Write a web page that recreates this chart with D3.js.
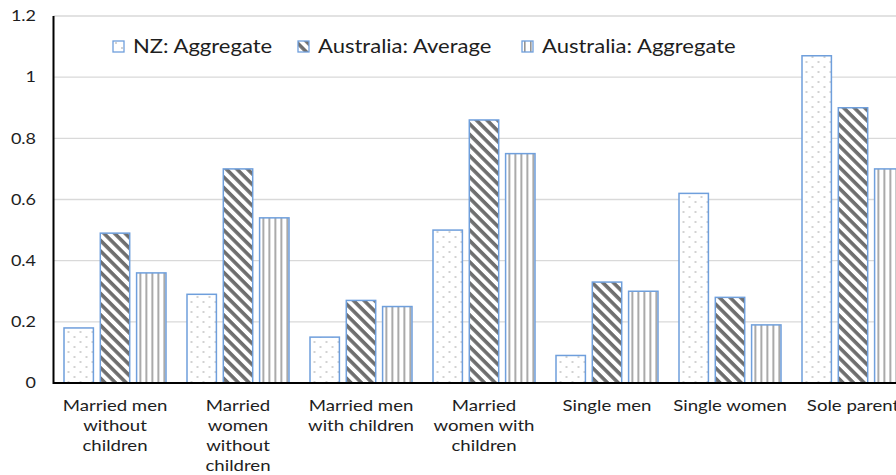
<!DOCTYPE html>
<html>
<head>
<meta charset="utf-8" />
<script src="https://cdn.jsdelivr.net/npm/d3@7"></script>
<style>
    body { margin: 0; background: #fff; }
    svg { display: block; font-family: Lato, "Noto Sans", sans-serif; fill: #1e1e1e; }
</style>
</head>
<body>
<svg id="chart" width="896" height="475"></svg>
<script>
    // data
    var categories = [
        ["Married men", "without", "children"],
        ["Married", "women", "without", "children"],
        ["Married men", "with children"],
        ["Married", "women with", "children"],
        ["Single men"],
        ["Single women"],
        ["Sole parent"]
    ];
    var seriesNames = ["NZ: Aggregate", "Australia: Average", "Australia: Aggregate"];
    var nzAggregate = [0.18, 0.29, 0.15, 0.50, 0.09, 0.62, 1.07];
    var ausAverage  = [0.49, 0.70, 0.27, 0.86, 0.33, 0.28, 0.90];
    var ausAggregate = [0.36, 0.54, 0.25, 0.75, 0.30, 0.19, 0.70];
    var yTicks = [0, 0.2, 0.4, 0.6, 0.8, 1, 1.2];

    var series = [nzAggregate, ausAverage, ausAggregate];
    var patternIds = ["pDots", "pDiag", "pVert"];
    var stretch = 1.2; // the picture is a bit wider than tall, text too
    var svg = d3.select("#chart");

    // patterns
    var defs = svg.append("defs");
    var dots = defs.append("pattern").attr("id", "pDots")
        .attr("patternUnits", "userSpaceOnUse").attr("width", 12).attr("height", 10);
    dots.append("rect").attr("width", 12).attr("height", 10).attr("fill", "#fff");
    dots.append("circle").attr("cx", 3).attr("cy", 2).attr("r", 0.8).attr("fill", "#999");
    dots.append("circle").attr("cx", 9).attr("cy", 7).attr("r", 0.8).attr("fill", "#999");

    var diag = defs.append("pattern").attr("id", "pDiag")
        .attr("patternUnits", "userSpaceOnUse").attr("width", 7.5).attr("height", 7.5)
        .attr("patternTransform", "rotate(45)");
    diag.append("rect").attr("width", 7.5).attr("height", 7.5).attr("fill", "#fff");
    diag.append("rect").attr("width", 7.5).attr("height", 3.6).attr("fill", "#6e6e6e");

    var vert = defs.append("pattern").attr("id", "pVert")
        .attr("patternUnits", "userSpaceOnUse").attr("width", 6).attr("height", 6);
    vert.append("rect").attr("width", 6).attr("height", 6).attr("fill", "#fff");
    vert.append("rect").attr("x", 2).attr("width", 1.6).attr("height", 6).attr("fill", "#959595");

    var left = 53.5, bottom = 383;
    var x = d3.scaleBand().domain(d3.range(categories.length)).range([left, left + 123 * 7]);
    var xs = d3.scaleBand().domain(d3.range(series.length)).range([10.5, 112.5]).paddingInner(0.19);
    var y = d3.scaleLinear().domain([0, 1.2]).range([bottom, 16]);

    // gridlines
    svg.append("g").selectAll("line").data(yTicks.slice(1)).enter().append("line")
        .attr("x1", left).attr("x2", 896)
        .attr("y1", function(d) { return y(d); }).attr("y2", function(d) { return y(d); })
        .attr("stroke", "#d9d9d9").attr("stroke-width", 1.3);

    // y axis labels
    var yAxis = svg.append("g").attr("transform", "translate(" + left + ",0)")
        .call(d3.axisLeft(y).tickValues(yTicks).tickSize(0)
            .tickFormat(function(d) { return d3.format("")(d); }));
    yAxis.select(".domain").remove();
    yAxis.selectAll("text").attr("font-size", 15).attr("font-family", "Lato").attr("fill", "#1e1e1e")
        .attr("x", -17.5 / stretch).attr("transform", "scale(" + stretch + ",1)");

    // bars
    var groups = svg.append("g").selectAll("g").data(categories).enter().append("g")
        .attr("transform", function(d, i) { return "translate(" + x(i) + ",0)"; });
    groups.selectAll("rect").data(function(d, i) {
            return series.map(function(s, k) { return { k: k, v: s[i] }; });
        }).enter().append("rect")
        .attr("x", function(d) { return xs(d.k); })
        .attr("width", xs.bandwidth())
        .attr("y", function(d) { return y(d.v); })
        .attr("height", function(d) { return bottom - y(d.v); })
        .attr("fill", function(d) { return "url(#" + patternIds[d.k] + ")"; })
        .attr("stroke", "#6f9fdc").attr("stroke-width", 1.5);

    // axis lines
    svg.append("line").attr("x1", left).attr("x2", 896).attr("y1", bottom).attr("y2", bottom)
        .attr("stroke", "#000").attr("stroke-width", 2);
    svg.append("line").attr("x1", left).attr("x2", left).attr("y1", 16).attr("y2", bottom + 1)
        .attr("stroke", "#000").attr("stroke-width", 2);

    // category labels (the last one runs off the right edge, as in the original)
    groups.append("text")
        .attr("transform", "translate(" + (x.bandwidth() / 2) + ",0) scale(" + stretch + ",1)")
        .attr("text-anchor", "middle").attr("font-size", 15.5)
        .selectAll("tspan").data(function(d) { return d; }).enter().append("tspan")
        .attr("x", 0)
        .attr("y", function(d, i) { return 411 + i * 20; })
        .text(function(d) { return d; });

    // legend
    var legendX = [113, 298, 522];
    var legend = svg.append("g").selectAll("g").data(seriesNames).enter().append("g")
        .attr("transform", function(d, i) { return "translate(" + legendX[i] + ",41)"; });
    legend.append("rect").attr("width", 11).attr("height", 11)
        .attr("fill", function(d, i) { return "url(#" + patternIds[i] + ")"; })
        .attr("stroke", "#6f9fdc").attr("stroke-width", 1.3);
    legend.append("text").attr("font-size", 19)
        .attr("transform", "translate(20,12) scale(1.16,1)")
        .text(function(d) { return d; });
</script>
</body>
</html>
